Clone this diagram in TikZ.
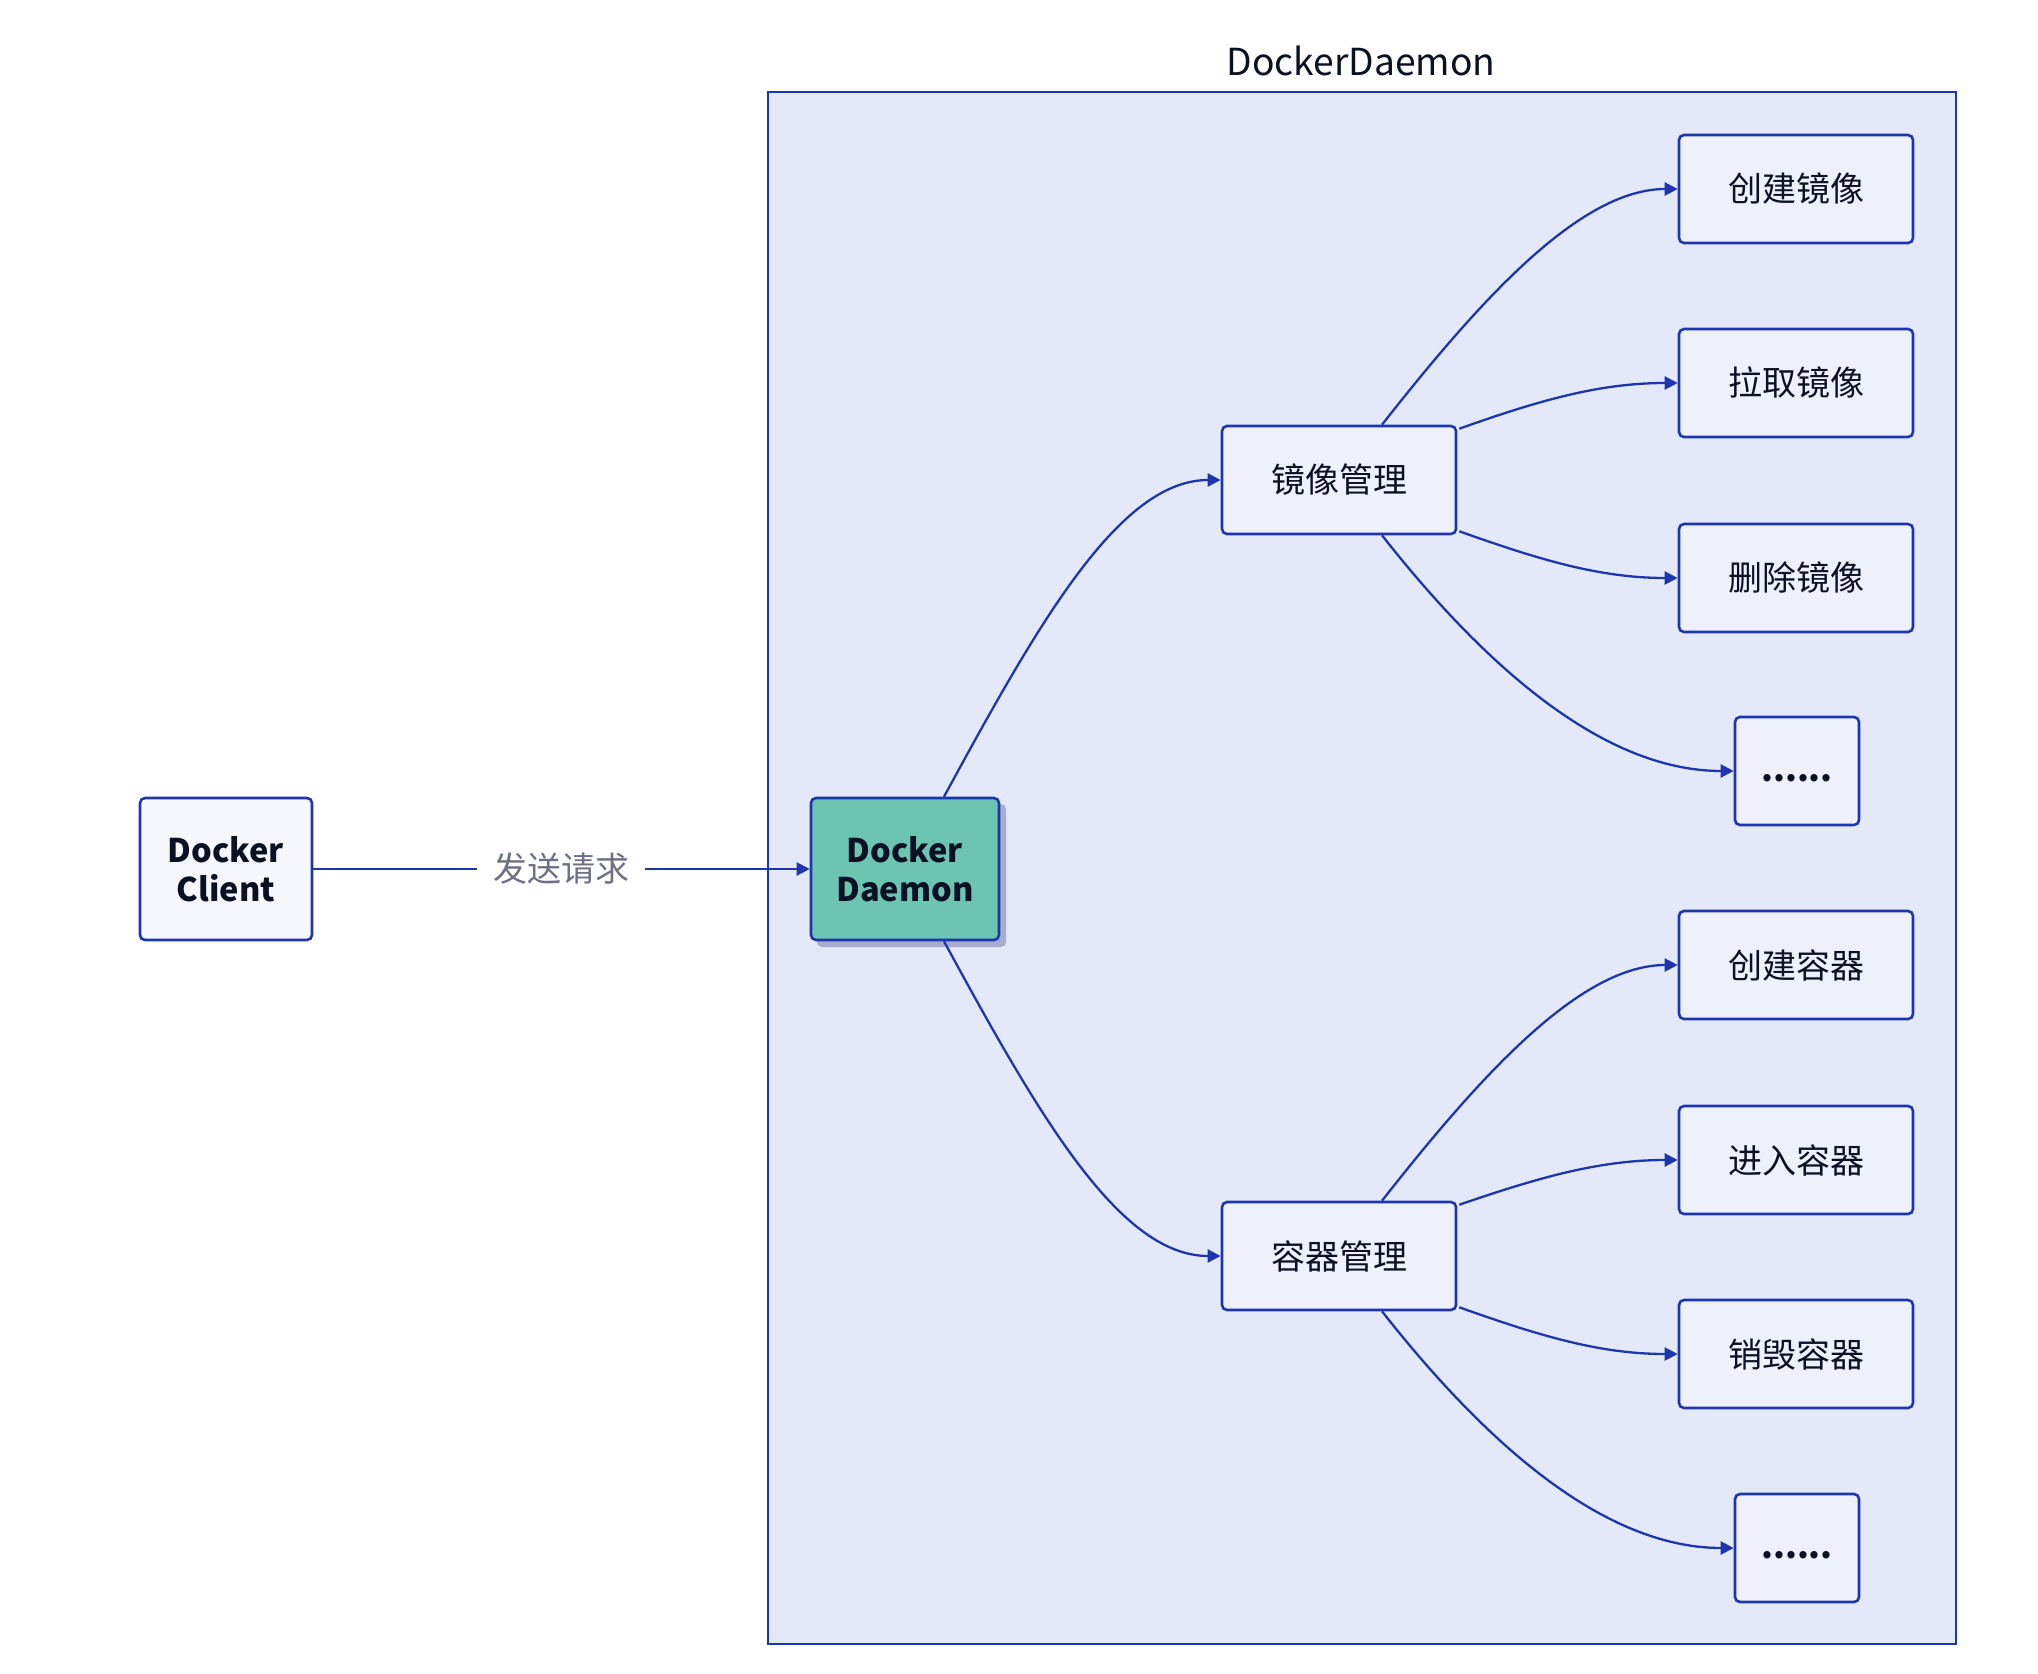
\documentclass[tikz,border=0pt]{standalone}
\usepackage{fontspec}
\setmainfont{Noto Sans CJK SC}
\usetikzlibrary{arrows.meta}
\definecolor{edgeblue}{HTML}{1F35AE}
\definecolor{groupfill}{HTML}{E4E9FA}
\definecolor{nodefill}{HTML}{EEF0FC}
\definecolor{clientfill}{HTML}{F6F7FD}
\definecolor{teal}{HTML}{6CC4B2}
\definecolor{shadowc}{HTML}{A8ADCF}
\definecolor{labelgray}{HTML}{6E7183}
\definecolor{txt}{HTML}{0B1022}
\tikzset{
  box/.style={draw=edgeblue, line width=1.3pt, rounded corners=2.5pt, fill=nodefill,
    text=txt, font=\fontsize{17pt}{20pt}\selectfont, inner sep=0pt, align=center},
  leaf/.style={box, minimum width=117pt, minimum height=54pt},
  dots/.style={box, minimum width=62pt, minimum height=54pt, font=\fontsize{17pt}{20pt}\selectfont\bfseries},
  link/.style={draw=edgeblue, line width=1.15pt, -{Triangle[length=6.5pt,width=6.5pt]}},
}
\begin{document}
\begin{tikzpicture}[x=0.5pt,y=-0.5pt]
\useasboundingbox (0,0) rectangle (2038,1674);
\fill[white] (0,0) rectangle (2038,1674);
% group
\draw[edgeblue, line width=1.3pt, fill=groupfill] (768,92) rectangle (1956,1644);
\node[text=txt, font=\fontsize{18.6pt}{22pt}\selectfont] (title) at (1361,61) {DockerDaemon};
% nodes
\node[box, fill=clientfill, minimum width=86pt, minimum height=71pt, font=\fontsize{16.3pt}{19.5pt}\selectfont\bfseries] (client) at (226,869) {Docker\\Client};
\fill[shadowc, rounded corners=2.5pt] (817,804) rectangle (1006,947);
\node[box, fill=teal, minimum width=94pt, minimum height=71pt, font=\fontsize{16.3pt}{19.5pt}\selectfont\bfseries] (daemon) at (905,869) {Docker\\Daemon};
\node[leaf] (img) at (1339,480) {镜像管理};
\node[leaf] (ctn) at (1339,1256) {容器管理};
\node[leaf] (i1) at (1796,189) {创建镜像};
\node[leaf] (i2) at (1796,383) {拉取镜像};
\node[leaf] (i3) at (1796,578) {删除镜像};
\node[dots] (i4) at (1797,771) {\raisebox{-1.2ex}{......}};
\node[leaf] (c1) at (1796,965) {创建容器};
\node[leaf] (c2) at (1796,1160) {进入容器};
\node[leaf] (c3) at (1796,1354) {销毁容器};
\node[dots] (c4) at (1797,1548) {\raisebox{-1.2ex}{......}};
% client -> daemon
\node[text=labelgray, font=\fontsize{17pt}{20pt}\selectfont, fill=white, inner sep=0pt] (lbl) at (561,869) {发送请求};
\draw[edgeblue, line width=1.15pt] (client.east) -- ([xshift=-8pt]lbl.west);
\draw[link] ([xshift=8pt]lbl.east) -- (daemon.west);
% daemon -> managers
\draw[link] ([xshift=19.5pt]daemon.north) .. controls (1040,620) and (1120,480) .. (img.west);
\draw[link] ([xshift=19.5pt]daemon.south) .. controls (1040,1118) and (1120,1256) .. (ctn.west);
% image management
\draw[link] ([xshift=21.5pt]img.north) .. controls (1480,300) and (1580,189) .. (i1.west);
\draw[link] ([xshift=1pt,yshift=-2pt]img.north east) .. controls (1540,400) and (1600,383) .. (i2.west);
\draw[link] ([xshift=1pt,yshift=2pt]img.south east) .. controls (1540,560) and (1600,578) .. (i3.west);
\draw[link] ([xshift=21.5pt]img.south) .. controls (1480,660) and (1600,771) .. (i4.west);
% container management
\draw[link] ([xshift=21.5pt]ctn.north) .. controls (1480,1076) and (1580,965) .. (c1.west);
\draw[link] ([xshift=1pt,yshift=-2pt]ctn.north east) .. controls (1540,1177) and (1600,1160) .. (c2.west);
\draw[link] ([xshift=1pt,yshift=2pt]ctn.south east) .. controls (1540,1336) and (1600,1354) .. (c3.west);
\draw[link] ([xshift=21.5pt]ctn.south) .. controls (1480,1436) and (1600,1548) .. (c4.west);
\end{tikzpicture}
\end{document}
